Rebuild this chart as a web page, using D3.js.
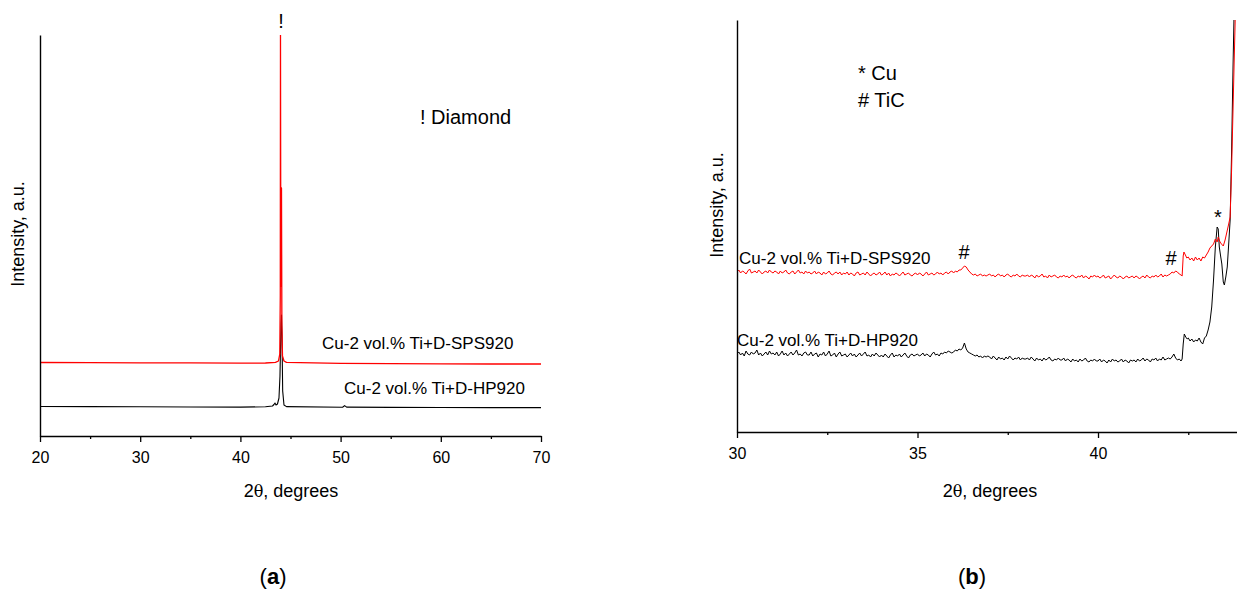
<!DOCTYPE html>
<html>
<head>
<meta charset="utf-8">
<script src="https://cdn.jsdelivr.net/npm/d3@7/dist/d3.min.js"></script>
<style>
  html, body { margin: 0; padding: 0; background: #fff; }
  svg { display: block; }
  text { font-family: "Liberation Sans", Arial, sans-serif; fill: #000; }
</style>
</head>
<body>
<div id="chart"></div>
<script>
// ---- Panel (a): full scan 20–70°, [2θ, intensity] ----
const spsFull = [
  [20, 73.5], [25, 73.4], [30, 73.2], [35, 73.1], [40, 72.9], [42.5, 73.0],
  [43.5, 73.6], [43.8, 75], [43.93, 82], [43.98, 140], [44.0, 401], [44.03, 190],
  [44.06, 150], [44.1, 248], [44.14, 110], [44.2, 80], [44.35, 75], [44.6, 73.6],
  [50, 72.6], [55, 72.3], [60, 72.1], [65, 72.0], [70, 72.0]
];
const hpFull = [
  [20, 29.5], [25, 29.4], [30, 29.2], [35, 29.0], [40, 28.9], [42.5, 29.2],
  [43.2, 30], [43.35, 31.5], [43.45, 33], [43.55, 31], [43.7, 32], [43.85, 38],
  [43.95, 60], [44.05, 112], [44.1, 121], [44.15, 100], [44.22, 45], [44.35, 31],
  [44.6, 29.4], [50.2, 28.8], [50.4, 30.4], [50.6, 28.9], [55, 28.6], [60, 28.5],
  [65, 28.4], [70, 28.4]
];

// ---- Panel (b): zoom 30–43.85°, baseline sampled every 0.05° from 30.00 to 42.30 ----
const zoomStart = 30.0;
const zoomStep = 0.05;
const spsBase = [
  160,162,159,161,160,158,161,163,159,160,161,159,162,160,158,160,161,159,162,160,
  159,161,160,158,161,159,160,162,159,158,160,161,158,160,162,159,160,158,161,159,
  160,158,159,161,158,160,159,157,160,158,159,161,158,157,159,160,158,160,157,159,
  158,160,157,159,158,156,159,160,157,158,159,157,160,158,156,158,159,157,158,160,
  157,158,160,157,159,156,158,157,159,158,156,158,160,157,158,159,157,156,158,159,
  157,159,158,156,158,160,157,158,159,157,158,160,158,159,157,159,160,158,160,161,
  159,161,160,162,162,164,166,165,162,160,158,157,158,156,157,158,156,157,156,157,
  158,156,157,155,157,158,156,157,155,157,158,156,155,157,156,158,156,155,157,156,
  156,157,155,157,156,154,157,155,156,158,155,156,154,157,155,156,157,155,154,156,
  155,157,155,156,154,156,157,155,154,156,155,157,154,156,155,153,156,155,157,155,
  156,154,155,157,154,155,156,153,155,157,155,154,156,155,153,155,156,154,155,156,
  154,156,155,153,155,156,154,157,155,154,156,155,157,155,156,158,155,157,156,157,
  158,160,159,161,160,158,157
];
const hpBase = [
  78,80,77,79,76,81,78,77,80,78,79,82,77,79,76,78,80,77,81,78,
  79,77,80,76,78,81,77,79,76,78,80,77,79,82,77,78,76,79,80,77,
  77,80,76,78,79,75,78,77,80,76,78,81,76,77,79,75,78,80,76,77,
  78,75,77,79,76,78,75,77,79,76,78,80,76,77,75,78,76,79,77,75,
  77,75,78,76,74,77,79,75,77,76,78,75,77,79,76,74,77,78,76,77,
  78,76,77,79,76,78,77,75,78,80,77,78,76,79,78,80,79,81,80,79,
  80,82,81,83,82,84,89,83,80,79,78,77,76,77,75,76,74,76,75,76,
  75,73,76,74,72,75,73,74,72,75,73,76,74,72,74,73,75,72,74,73,
  73,74,72,75,73,71,74,72,73,71,74,72,73,75,72,71,73,72,74,72,
  72,74,71,73,72,70,73,71,72,70,73,71,72,74,71,70,72,71,73,71,
  71,73,70,72,71,69,72,70,73,71,72,70,71,73,70,72,71,69,72,71,
  72,70,73,71,72,74,71,73,72,70,73,72,74,71,73,72,75,72,73,74,
  73,75,78,74,72,73,71
];
// Cu (111) region after the TiC step, [2θ, intensity]
const spsTail = [
  [42.33, 156], [42.36, 176], [42.38, 180], [42.42, 177], [42.46, 174], [42.5, 175],
  [42.55, 172], [42.6, 174], [42.65, 171], [42.7, 175], [42.75, 172], [42.8, 174],
  [42.85, 171], [42.9, 175], [42.95, 174], [43.0, 177], [43.05, 180], [43.1, 184],
  [43.15, 186], [43.2, 188], [43.25, 193], [43.3, 190], [43.33, 195], [43.38, 190],
  [43.42, 188], [43.47, 186], [43.52, 192], [43.57, 200], [43.62, 208], [43.66, 215],
  [43.7, 262], [43.74, 322], [43.77, 368], [43.8, 412], [43.83, 440]
];
const hpTail = [
  [42.33, 73], [42.36, 88], [42.39, 98], [42.43, 95], [42.47, 93], [42.5, 94],
  [42.55, 91], [42.6, 93], [42.65, 90], [42.7, 92], [42.75, 91], [42.8, 94],
  [42.85, 90], [42.9, 88], [42.95, 94], [43.0, 96], [43.05, 102], [43.1, 110],
  [43.15, 125], [43.2, 152], [43.25, 185], [43.3, 205], [43.33, 203], [43.36, 185],
  [43.4, 175], [43.43, 168], [43.47, 150], [43.5, 147], [43.54, 155], [43.58, 165],
  [43.62, 188], [43.66, 212], [43.7, 280], [43.74, 365], [43.78, 440]
];

// ---- Text ----
const xTicksA = [20, 30, 40, 50, 60, 70];
const xMinorA = [25, 35, 45, 55, 65];
const xTicksB = [30, 35, 40];
const xMinorB = [32.5, 37.5, 42.5];
const labelSps = "Cu-2 vol.% Ti+D-SPS920";
const labelHp = "Cu-2 vol.% Ti+D-HP920";
const yTitle = "Intensity, a.u.";

const W = 1237, H = 589;
const svg = d3.select("#chart").append("svg").attr("width", W).attr("height", H);

function toSeries(base, tail) {
  const pts = base.map((v, i) => [+(zoomStart + i * zoomStep).toFixed(2), v]);
  return pts.concat(tail);
}

function drawPanel(cfg) {
  const g = svg.append("g");
  const x = d3.scaleLinear(cfg.xDomain, cfg.xRange);
  const y = d3.scaleLinear(cfg.yDomain, cfg.yRange);
  const clipId = "clip-" + cfg.id;
  svg.append("clipPath").attr("id", clipId).append("rect")
    .attr("x", cfg.xRange[0]).attr("y", cfg.yRange[1])
    .attr("width", cfg.xRange[1] - cfg.xRange[0] + 2)
    .attr("height", cfg.yRange[0] - cfg.yRange[1]);

  const line = d3.line().x(d => x(d[0])).y(d => y(d[1]));
  const plot = g.append("g").attr("clip-path", `url(#${clipId})`);
  cfg.series.forEach(s => {
    plot.append("path").datum(s.data)
      .attr("fill", "none").attr("stroke", s.color)
      .attr("stroke-width", s.width).attr("stroke-linejoin", "round")
      .attr("d", line);
  });

  // x axis: major and minor ticks
  const ax = g.append("g").attr("transform", `translate(0,${cfg.yRange[0]})`)
    .call(d3.axisBottom(x).tickValues(cfg.ticks).tickSize(6).tickPadding(10)
      .tickFormat(d3.format("d")).tickSizeOuter(0));
  ax.select(".domain").attr("stroke-width", 1.4);
  ax.selectAll(".tick line").attr("stroke-width", 1.3);
  ax.selectAll("text").attr("font-size", 16).attr("font-family", '"Liberation Sans", Arial, sans-serif');
  const mi = g.append("g").attr("transform", `translate(0,${cfg.yRange[0]})`)
    .call(d3.axisBottom(x).tickValues(cfg.minor).tickSize(3).tickFormat(""));
  mi.select(".domain").remove();
  mi.selectAll(".tick line").attr("stroke-width", 1.3);

  // y axis: plain line, no ticks
  const ay = g.append("g").attr("transform", `translate(${cfg.xRange[0]},0)`)
    .call(d3.axisLeft(y).tickValues([]).tickSizeOuter(0));
  ay.select(".domain").attr("stroke-width", 1.4);

  g.append("text").attr("x", cfg.xTitleX).attr("y", 497)
    .attr("text-anchor", "middle").attr("font-size", 18)
    .html('2<tspan font-family="DejaVu Serif, serif" font-size="16">θ</tspan>, degrees');
  g.append("text")
    .attr("transform", `translate(${cfg.yTitleX},${cfg.yTitleY}) rotate(-90)`)
    .attr("text-anchor", "middle").attr("font-size", 18).text(yTitle);

  cfg.labels.forEach(l => {
    g.append("text").attr("x", l.x).attr("y", l.y)
      .attr("text-anchor", l.anchor || "start")
      .attr("font-size", l.size).text(l.text);
  });

  svg.append("text").attr("x", cfg.capX).attr("y", 584)
    .attr("text-anchor", "middle").attr("font-size", 22)
    .attr("font-family", '"Liberation Serif", serif')
    .html(`(<tspan font-weight="bold">${cfg.cap}</tspan>)`);
  return { x, y };
}

drawPanel({
  id: "a", cap: "a", capX: 273,
  xDomain: [20, 70], xRange: [40, 541],
  yDomain: [0, 401], yRange: [436, 35],
  ticks: xTicksA, minor: xMinorA,
  xTitleX: 291, yTitleX: 24, yTitleY: 234,
  series: [
    { data: hpFull, color: "#000", width: 1.1 },
    { data: spsFull, color: "#ff0000", width: 1.3 }
  ],
  labels: [
    { text: "!", x: 281, y: 28, size: 20, anchor: "middle" },
    { text: "! Diamond", x: 420, y: 124, size: 20 },
    { text: labelSps, x: 322, y: 349, size: 17 },
    { text: labelHp, x: 344, y: 394, size: 17 }
  ]
});

drawPanel({
  id: "b", cap: "b", capX: 972,
  xDomain: [30, 43.85], xRange: [737, 1237],
  yDomain: [0, 412], yRange: [432, 20],
  ticks: xTicksB, minor: xMinorB,
  xTitleX: 990, yTitleX: 723, yTitleY: 205,
  series: [
    { data: toSeries(hpBase, hpTail), color: "#000", width: 1 },
    { data: toSeries(spsBase, spsTail), color: "#ff0000", width: 1 }
  ],
  labels: [
    { text: "* Cu", x: 858, y: 80, size: 20 },
    { text: "# TiC", x: 858, y: 107, size: 20 },
    { text: labelSps, x: 739, y: 264, size: 17 },
    { text: labelHp, x: 737, y: 346, size: 17 },
    { text: "#", x: 964, y: 259, size: 20, anchor: "middle" },
    { text: "#", x: 1171, y: 265, size: 20, anchor: "middle" },
    { text: "*", x: 1218, y: 224, size: 20, anchor: "middle" }
  ]
});
</script>
</body>
</html>
